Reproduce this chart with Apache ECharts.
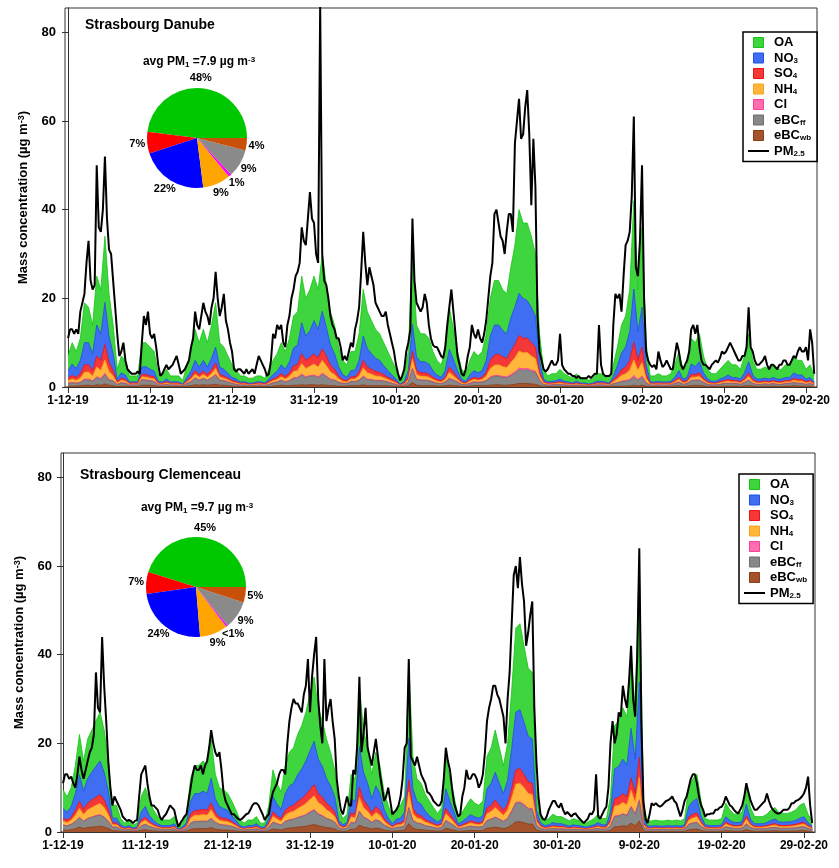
<!doctype html>
<html>
<head>
<meta charset="utf-8">
<title>PM1 composition - Strasbourg</title>
<script src="https://cdn.jsdelivr.net/npm/echarts@6/dist/echarts.min.js"></script>
<style>
html, body { margin: 0; background: #fff; }
#main { width: 839px; height: 868px; }
</style>
</head>
<body>
<div id="main"></div>
<script>
// x axis ticks every 10 days from 1 Dec 2019
var tickDays = [0, 10, 20, 30, 40, 50, 60, 70, 80, 90];
var tickLabels = ['1-12-19', '11-12-19', '21-12-19', '31-12-19', '10-01-20', '20-01-20', '30-01-20', '9-02-20', '19-02-20', '29-02-20'];
var yTicks = [0, 20, 40, 60, 80];

// species stacks: 12 h steps, PM2.5: 6 h steps
var compStepDays = 0.5;
var pmStepDays = 0.25;

// ---- Strasbourg Danube ----
var danubeOA = [3.4,4.8,3.8,5,9,8,6.5,11,10,14.9,
9.5,6.5,2.2,3.8,3.3,1.35,1.3,1.35,5.5,5.4,
5,4.4,1.7,1.35,2.2,1.35,1.3,1.35,0.8,2.85,
4.4,7,5.5,7,5.5,7.5,10,5.5,5,3.9,
2.85,2.2,1.35,1.3,1.1,1.1,1.35,1.3,1.1,2.2,
3.2,4,5,4,5.3,7.2,7.5,10.5,8.5,9.3,
10,9,12.9,9.5,7.5,6.5,4.5,3.2,2.8,4.3,
4.2,6,10.5,8.3,7.5,6.5,6,5.2,4.3,3.3,
2.2,0.8,1.7,4.3,15.9,7.2,6.3,6.3,5.8,4.3,
3.3,2.8,4.3,9.5,6.8,4.3,2.2,1.7,3.3,4.3,
3.8,4.3,6,8.5,10,10,9.2,9,11.4,13.9,
18.9,17,17.5,16,14,6,2.2,1.35,1.7,1.6,
2.2,1.7,1.35,1.1,1.7,1.1,1.1,0.8,1.1,1.7,
1.7,1.35,1.1,2.6,4.2,6.3,7,9.5,19.9,9.5,
18,4.8,1.35,1.35,1.7,1.35,1.35,1.7,2.85,4.3,
2.2,2.85,5.8,5.4,6.3,3.8,2.2,1.7,1.7,2.2,
2.85,3.3,2.85,2.85,2.2,3.8,6.3,3.3,2.2,2.2,
2.5,2.2,2.85,2.2,2.2,2.85,2.85,3.8,3.3,3.3,
2.2,2.85,1.35];
var danubeNO3 = [1.6,2.6,2,3,5,5,3.8,7,6,9.5,
6,3.8,0.6,1.2,1,0.3,0.3,0.3,1.6,1.8,
1.5,1.3,0.4,0.3,0.6,0.3,0.3,0.3,0.2,0.7,
1.3,2.3,1.7,2.4,1.7,2.6,3.6,1.7,1.5,1.1,
0.7,0.6,0.3,0.3,0.25,0.25,0.3,0.3,0.25,0.6,
1,1.3,2,1.6,2.5,4,4.4,7,5.5,6,
7.5,6.5,8.5,6.5,4.6,3.5,2,1.1,0.8,1.4,
1.5,2.6,5.5,4.2,3.5,3,2.7,2,1.5,1,
0.6,0.2,0.4,1.5,6,3,2.5,2.5,2.3,1.5,
1,0.8,1.5,4,2.8,1.5,0.6,0.4,1,1.5,
1.3,1.5,2.7,5.5,6.8,6.6,6,5.6,7.5,8.5,
9.5,9,8.5,8,7,2.6,0.6,0.3,0.4,0.4,
0.6,0.4,0.3,0.25,0.4,0.25,0.25,0.2,0.25,0.4,
0.4,0.3,0.25,0.8,2.2,3.8,4.5,6.5,12,6.5,
9,2.4,0.3,0.3,0.4,0.3,0.3,0.4,0.7,1.5,
0.6,0.7,2.3,1.8,2.5,1.3,0.6,0.4,0.4,0.6,
0.7,1,0.7,0.7,0.6,1.3,2.5,1,0.6,0.6,
0.65,0.6,0.7,0.6,0.6,0.7,0.7,1.3,1,1,
0.6,0.7,0.3];
var danubeSO4 = [0.6,0.8,0.7,1,1.7,1.6,1.2,2.5,2.2,3.5,
2,1.2,0.3,0.5,0.4,0.2,0.2,0.2,0.6,0.6,
0.5,0.5,0.2,0.2,0.3,0.2,0.2,0.2,0.1,0.3,
0.5,0.8,0.6,0.8,0.6,0.9,1.2,0.6,0.5,0.4,
0.3,0.3,0.2,0.2,0.15,0.15,0.2,0.2,0.15,0.3,
0.4,0.5,0.7,0.6,0.8,1.3,1.4,2.2,1.8,2,
2.3,2,2.6,2.2,1.5,1.2,0.7,0.4,0.3,0.5,
0.5,0.9,1.7,1.3,1.1,1,0.9,0.7,0.5,0.4,
0.3,0.1,0.2,0.5,1.8,1,0.8,0.8,0.7,0.5,
0.4,0.3,0.5,1.2,0.9,0.5,0.3,0.2,0.4,0.5,
0.4,0.5,0.9,1.8,2.3,2.4,2.2,2,2.6,3,
3.5,3.3,3.2,3,2.6,0.9,0.3,0.2,0.2,0.2,
0.3,0.2,0.2,0.15,0.2,0.15,0.15,0.1,0.15,0.2,
0.2,0.2,0.15,0.4,0.8,1.3,1.5,2.2,4,2.2,
3.5,0.9,0.2,0.2,0.2,0.2,0.2,0.2,0.3,0.5,
0.3,0.3,0.7,0.6,0.8,0.4,0.3,0.2,0.2,0.3,
0.3,0.4,0.3,0.3,0.3,0.4,0.8,0.4,0.3,0.3,
0.3,0.3,0.3,0.3,0.3,0.3,0.3,0.4,0.4,0.4,
0.3,0.3,0.2];
var danubeNH4 = [0.5,0.8,0.6,0.9,1.5,1.6,1.1,2.2,1.9,3,
1.8,1.1,0.3,0.5,0.4,0.2,0.2,0.2,0.6,0.6,
0.5,0.5,0.2,0.2,0.3,0.2,0.2,0.2,0.1,0.3,
0.5,0.8,0.6,0.8,0.6,0.9,1.3,0.6,0.5,0.4,
0.3,0.3,0.2,0.2,0.15,0.15,0.2,0.2,0.15,0.3,
0.4,0.5,0.7,0.6,0.9,1.4,1.5,2.4,1.9,2.1,
2.5,2.2,2.9,2.3,1.6,1.2,0.7,0.4,0.3,0.5,
0.5,0.9,1.8,1.4,1.2,1,0.9,0.7,0.5,0.4,
0.3,0.1,0.2,0.5,2,1,0.8,0.8,0.7,0.5,
0.4,0.3,0.5,1.3,0.9,0.5,0.3,0.2,0.4,0.5,
0.4,0.5,0.9,1.9,2.3,2.4,2.2,2.1,2.7,3.2,
3.8,3.6,3.6,3.2,2.8,0.9,0.3,0.2,0.2,0.2,
0.3,0.2,0.2,0.15,0.2,0.15,0.15,0.1,0.15,0.2,
0.2,0.2,0.15,0.4,0.8,1.3,1.5,2.1,3.5,2.1,
3,0.9,0.2,0.2,0.2,0.2,0.2,0.2,0.3,0.5,
0.3,0.3,0.7,0.6,0.8,0.4,0.3,0.2,0.2,0.3,
0.3,0.4,0.3,0.3,0.3,0.4,0.8,0.4,0.3,0.3,
0.3,0.3,0.3,0.3,0.3,0.3,0.3,0.4,0.4,0.4,
0.3,0.3,0.2];
var danubeCl = [0.1,0.1,0.1,0.1,0.2,0.2,0.1,0.2,0.2,0.3,
0.2,0.1,0.05,0.1,0.1,0.05,0.05,0.05,0.1,0.1,
0.1,0.1,0.05,0.05,0.05,0.05,0.05,0.05,0.03,0.05,
0.1,0.1,0.1,0.1,0.1,0.1,0.2,0.1,0.1,0.1,
0.05,0.05,0.05,0.05,0.03,0.03,0.05,0.05,0.03,0.05,
0.1,0.1,0.1,0.1,0.1,0.2,0.2,0.2,0.2,0.2,
0.2,0.2,0.3,0.2,0.2,0.1,0.1,0.1,0.05,0.1,
0.1,0.1,0.2,0.2,0.1,0.1,0.1,0.1,0.1,0.1,
0.05,0.03,0.05,0.1,0.3,0.1,0.1,0.1,0.1,0.1,
0.1,0.05,0.1,0.2,0.1,0.1,0.05,0.05,0.1,0.1,
0.1,0.1,0.1,0.2,0.2,0.2,0.2,0.2,0.3,0.3,
0.4,0.3,0.3,0.3,0.3,0.1,0.05,0.05,0.05,0.05,
0.05,0.05,0.05,0.03,0.05,0.03,0.03,0.03,0.03,0.05,
0.05,0.05,0.03,0.05,0.1,0.1,0.2,0.2,0.4,0.2,
0.3,0.1,0.05,0.05,0.05,0.05,0.05,0.05,0.05,0.1,
0.05,0.05,0.1,0.1,0.1,0.1,0.05,0.05,0.05,0.05,
0.05,0.1,0.05,0.05,0.05,0.1,0.1,0.1,0.05,0.05,
0.05,0.05,0.05,0.05,0.05,0.05,0.05,0.1,0.1,0.1,
0.05,0.05,0.03];
var danubeBCff = [0.6,0.7,0.6,0.7,1.2,1.2,1,1.6,1.3,2.1,
1.1,1,0.45,0.7,0.6,0.3,0.35,0.3,1.2,1.1,
1,0.9,0.35,0.3,0.45,0.3,0.35,0.3,0.2,0.6,
0.9,1.5,1.1,1.4,1.1,1.5,2.1,1.1,1,0.8,
0.6,0.45,0.3,0.35,0.25,0.25,0.3,0.35,0.25,0.45,
0.7,0.8,1.1,0.8,1.1,1.5,1.6,2.2,1.7,1.9,
2,1.7,2.3,1.9,1.3,1.2,0.8,0.6,0.55,0.9,
0.9,1.2,1.8,1.3,1.3,1.1,1.1,1,0.8,0.6,
0.45,0.2,0.35,0.8,3,1.3,1.2,1.2,1.1,0.8,
0.6,0.55,0.8,1.4,1.2,0.8,0.45,0.35,0.6,0.8,
0.7,0.8,1.1,1.7,1.9,1.9,1.8,1.7,2,2.5,
3.1,3,3.1,2.8,2.7,1.2,0.45,0.3,0.35,0.4,
0.45,0.35,0.3,0.25,0.35,0.25,0.25,0.2,0.25,0.35,
0.35,0.3,0.25,0.55,0.7,1,1.1,1.3,1.8,1.3,
1.8,0.7,0.3,0.3,0.35,0.3,0.3,0.35,0.6,0.8,
0.45,0.6,1.1,1.1,1.2,0.7,0.45,0.35,0.35,0.45,
0.6,0.6,0.6,0.6,0.45,0.7,1.2,0.6,0.45,0.45,
0.5,0.45,0.6,0.45,0.45,0.6,0.6,0.7,0.6,0.6,
0.45,0.6,0.3];
var danubeBCwb = [0.2,0.2,0.2,0.3,0.4,0.4,0.3,0.5,0.4,0.7,
0.4,0.3,0.1,0.2,0.2,0.1,0.1,0.1,0.4,0.4,
0.4,0.3,0.1,0.1,0.1,0.1,0.1,0.1,0.07,0.2,
0.3,0.5,0.4,0.5,0.4,0.5,0.6,0.4,0.4,0.3,
0.2,0.1,0.1,0.1,0.07,0.07,0.1,0.1,0.07,0.1,
0.2,0.3,0.4,0.3,0.3,0.4,0.4,0.5,0.4,0.5,
0.5,0.4,0.5,0.4,0.3,0.3,0.2,0.2,0.2,0.3,
0.3,0.3,0.5,0.3,0.3,0.3,0.3,0.3,0.3,0.2,
0.1,0.07,0.1,0.3,1,0.4,0.3,0.3,0.3,0.3,
0.2,0.2,0.3,0.4,0.3,0.3,0.1,0.1,0.2,0.3,
0.3,0.3,0.3,0.4,0.5,0.5,0.4,0.4,0.5,0.6,
0.8,0.8,0.8,0.7,0.6,0.3,0.1,0.1,0.1,0.15,
0.1,0.1,0.1,0.07,0.1,0.07,0.07,0.07,0.07,0.1,
0.1,0.1,0.07,0.2,0.2,0.2,0.2,0.2,0.4,0.2,
0.4,0.2,0.1,0.1,0.1,0.1,0.1,0.1,0.2,0.3,
0.1,0.2,0.3,0.4,0.3,0.3,0.1,0.1,0.1,0.1,
0.2,0.2,0.2,0.2,0.1,0.3,0.3,0.2,0.1,0.1,
0.2,0.1,0.2,0.1,0.1,0.2,0.2,0.3,0.2,0.2,
0.1,0.2,0.1];
var danubePM25 = [
11,13,13,12, 13,12,17,19, 21,28,33,24, 22,23,50,36, 35,40,52,38,
31,30,24,18, 12,7,8,10, 6,4,3.5,3, 3,3,3.5,3, 10,16,14,17,
12,11,12,9, 5,2.5,3,4, 5,4,4.5,5, 6,7,5,3, 3.5,4,5,6,
9,11,17,14, 13,16,19,17, 16,14,18,20, 26,20,16,18, 21,15,13,10,
8,4,3.5,4, 4,3.5,3,4, 3,3.5,4,3, 5,7,6,5, 4,2.5,3,6,
12,11,14,13, 14,10,9,14, 16,20,22,25, 26,28,36,33, 32,38,44,38,
37,30,28,86, 30,24,23,20, 16,14,13,11, 11,9,6,7, 6,8,10,9,
13,15,18,26, 35,28,23,27, 25,23,19,18, 17,16,16,17, 14,12,10,8,
5,3,1.5,2.5, 4,8,10,13, 38,24,19,18, 17,18,21,19, 14,11,9.5,9,
9,8,7,6.5, 9,14,18,22, 17,12,7,5, 3,2.5,4,7, 9,14,12,11,
13,11,10,12, 15,20,25,28, 39,40,37,34, 33,30,35,39, 39,35,55,60,
65,56,57,63, 67,57,41,56, 45,16,8,6, 4,3.5,4,5, 6,5,5,6,
12,5,4,3.5, 3,3,2.5,2.5, 2,2.5,2,2, 2,2,2.5,2, 2.5,3,3,14,
5,3,2.5,2.5, 2.5,3,14,21, 20,21,17,25, 32,33,35,43, 61,27,25,33,
50,20,8,6, 5,4.5,5,4, 8,6,4.5,5, 6,5,4,4, 7,10,8,5,
4,5,6,8, 13,14,12,14, 9,6,5,5, 4.5,4,5,5.5, 6,5.5,6.5,8,
7.5,8,9,10, 9,8,7,6, 6,7,7,9, 18,9,8,6, 5,5,5.5,6,
7,5,4,5, 5,4.5,4,5, 5,6,6,5, 5,6,7,6.5, 8,9,8,8,
9,6,13,10, 3];
var danubeAvg = 7.9;
var danubePie = [48, 7, 22, 9, 1, 9, 4];
var danubePieLabels = ['48%', '7%', '22%', '9%', '1%', '9%', '4%'];

// ---- Strasbourg Clemenceau ----
var clemOA = [4.2,3.5,4.25,6.3,9.1,6.8,8.9,9.5,10.2,11,
9.5,6.8,2.9,2.9,1.4,0.9,1.25,0.7,0.9,3.5,
4.25,3.35,2.35,1.6,1.25,1.25,1.25,1.6,0.53,0.9,
1.9,5.1,6.3,6.3,6.8,6.3,8.9,5.5,4.25,4.2,
3.8,3.35,2.35,1.25,0.9,1.25,1.25,1.6,0.9,0.9,
2.9,6,4.7,3.9,6.3,7.6,8,9.1,9.8,11,
12.8,14.5,11.6,10.2,8.9,7.6,6,2.35,1.4,1.9,
5.5,5.1,13.7,9.5,8,5.5,7.6,6.3,3.9,2.9,
1.6,2.6,2.9,3.5,16.8,7.3,5.1,4.7,3.8,3.35,
2.6,1.95,2.6,7.3,5.1,3.5,1.6,2.1,2.9,3.6,
3.1,2.9,3.35,7.3,8,9.5,8,6.3,8.4,13.1,
19,19.4,17.3,15.3,15,3.9,1.9,1.25,1.4,1.9,
1.6,1.6,1.4,1.17,1.4,1.25,1.17,0.9,1.17,1.4,
1.9,1.4,1.4,3.5,9.8,10.2,11.6,10.8,16.6,11.6,
28,2.9,1.17,1.17,1.25,1.17,1.17,1.25,1.17,1.25,
1.17,1.4,4.25,5.1,5.5,3.35,1.4,1.25,1.25,1.25,
1.4,3.1,2.35,1.9,1.9,2.1,4.7,2.6,1.6,1.6,
1.6,1.9,2.35,2.6,1.95,1.95,1.95,2.1,2.35,2.9,
3.1,1.9,1.17];
var clemNO3 = [2.2,1.8,2.4,3.8,6,4.1,5.6,6.3,7,7.6,
6.3,4.1,1.1,1.1,0.5,0.35,0.45,0.28,0.35,1.8,
2.4,1.3,0.9,0.6,0.45,0.45,0.45,0.6,0.2,0.35,
0.7,2.9,3.8,3.8,4.1,3.8,5.6,3.2,2.4,2.2,
2,1.3,0.9,0.45,0.35,0.45,0.45,0.6,0.35,0.35,
1.1,3.5,2.6,2.1,3.8,4.7,5,6,6.7,7.6,
8.7,9.8,7.8,7,5.6,4.7,3.5,0.9,0.5,0.7,
3.2,2.9,9.2,6.3,5,3.2,4.7,3.8,2.1,1.1,
0.6,1,1.1,1.8,9.5,4.4,2.9,2.6,1.9,1.3,
1,0.75,1,4.4,2.9,1.8,0.6,0.8,1.1,1.4,
1.2,1.1,1.3,4.4,5,6.3,5,3.8,5.3,9,
13,13.3,11.8,10.4,10,2.1,0.7,0.45,0.5,0.7,
0.6,0.6,0.5,0.42,0.5,0.45,0.42,0.35,0.42,0.5,
0.7,0.5,0.5,1.8,6.7,7,7.8,7.3,11.2,7.8,
17,1.1,0.42,0.42,0.45,0.42,0.42,0.45,0.42,0.45,
0.42,0.5,2.4,2.9,3.2,1.3,0.5,0.45,0.45,0.45,
0.5,1.2,0.9,0.7,0.7,0.8,2.6,1,0.6,0.6,
0.6,0.7,0.9,1,0.75,0.75,0.75,0.8,0.9,1.1,
1.2,0.7,0.42];
var clemSO4 = [0.7,0.55,0.7,1.1,1.6,1.2,1.5,1.7,1.8,2,
1.7,1.2,0.4,0.4,0.2,0.13,0.18,0.1,0.13,0.55,
0.7,0.45,0.33,0.23,0.18,0.18,0.18,0.23,0.08,0.13,
0.26,0.85,1.1,1.1,1.2,1.1,1.5,0.9,0.7,0.7,
0.6,0.45,0.33,0.18,0.13,0.18,0.18,0.23,0.13,0.13,
0.4,1,0.77,0.63,1.1,1.3,1.35,1.6,1.7,2,
2.2,2.5,2,1.8,1.5,1.3,1,0.33,0.2,0.26,
0.9,0.85,2.3,1.7,1.35,0.9,1.3,1.1,0.63,0.4,
0.23,0.38,0.4,0.55,2.7,1.2,0.85,0.77,0.6,0.45,
0.38,0.29,0.38,1.2,0.85,0.55,0.23,0.3,0.4,0.5,
0.45,0.4,0.45,1.2,1.35,1.7,1.35,1.1,1.4,2.2,
3.2,3.3,2.9,2.6,2.5,0.63,0.26,0.18,0.2,0.26,
0.23,0.23,0.2,0.16,0.2,0.18,0.16,0.13,0.16,0.2,
0.26,0.2,0.2,0.55,1.7,1.8,2,1.8,2.8,2,
4.5,0.4,0.16,0.16,0.18,0.16,0.16,0.18,0.16,0.18,
0.16,0.2,0.7,0.85,0.9,0.45,0.2,0.18,0.18,0.18,
0.2,0.45,0.33,0.26,0.26,0.3,0.77,0.38,0.23,0.23,
0.23,0.26,0.33,0.38,0.29,0.29,0.29,0.3,0.33,0.4,
0.45,0.26,0.16];
var clemNH4 = [0.8,0.7,0.9,1.35,2,1.45,1.9,2.1,2.3,2.5,
2.1,1.45,0.5,0.5,0.25,0.16,0.22,0.13,0.16,0.7,
0.9,0.6,0.42,0.3,0.22,0.22,0.22,0.3,0.1,0.16,
0.34,1.1,1.35,1.35,1.45,1.35,1.9,1.2,0.9,0.8,
0.78,0.6,0.42,0.22,0.16,0.22,0.22,0.3,0.16,0.16,
0.5,1.25,1,0.8,1.35,1.6,1.7,2,2.2,2.5,
2.8,3.1,2.5,2.3,1.9,1.6,1.25,0.42,0.25,0.34,
1.2,1.1,3,2.1,1.7,1.2,1.6,1.35,0.8,0.5,
0.3,0.48,0.5,0.7,3.4,1.5,1.1,1,0.75,0.6,
0.48,0.36,0.48,1.5,1.1,0.7,0.3,0.4,0.5,0.65,
0.57,0.5,0.6,1.5,1.7,2.1,1.7,1.35,1.8,2.9,
4.1,4.2,3.8,3.3,3.2,0.8,0.34,0.22,0.25,0.34,
0.3,0.3,0.25,0.2,0.25,0.22,0.2,0.16,0.2,0.25,
0.34,0.25,0.25,0.7,2.2,2.3,2.5,2.3,3.6,2.5,
5,0.5,0.2,0.2,0.22,0.2,0.2,0.22,0.2,0.22,
0.2,0.25,0.9,1.1,1.2,0.6,0.25,0.22,0.22,0.22,
0.25,0.57,0.42,0.34,0.34,0.4,1,0.48,0.3,0.3,
0.3,0.34,0.42,0.48,0.36,0.36,0.36,0.4,0.42,0.5,
0.57,0.34,0.2];
var clemCl = [0.05,0.04,0.05,0.08,0.1,0.08,0.1,0.1,0.12,0.13,
0.1,0.08,0.03,0.03,0.02,0.01,0.02,0.01,0.01,0.04,
0.05,0.04,0.03,0.02,0.02,0.02,0.02,0.02,0.01,0.01,
0.02,0.06,0.08,0.08,0.08,0.08,0.1,0.07,0.05,0.05,
0.05,0.04,0.03,0.02,0.01,0.02,0.02,0.02,0.01,0.01,
0.03,0.07,0.05,0.05,0.08,0.09,0.1,0.1,0.12,0.13,
0.15,0.17,0.14,0.12,0.1,0.09,0.07,0.03,0.02,0.02,
0.07,0.06,0.16,0.1,0.1,0.07,0.09,0.08,0.05,0.03,
0.02,0.03,0.03,0.04,0.2,0.08,0.06,0.05,0.04,0.04,
0.03,0.02,0.03,0.08,0.06,0.04,0.02,0.02,0.03,0.04,
0.03,0.03,0.04,0.08,0.1,0.1,0.1,0.08,0.1,0.16,
0.2,0.2,0.2,0.18,0.18,0.05,0.02,0.02,0.02,0.02,
0.02,0.02,0.02,0.01,0.02,0.02,0.01,0.01,0.01,0.02,
0.02,0.02,0.02,0.04,0.12,0.12,0.14,0.13,0.2,0.14,
0.3,0.03,0.01,0.01,0.02,0.01,0.01,0.02,0.01,0.02,
0.01,0.02,0.05,0.06,0.07,0.04,0.02,0.02,0.02,0.02,
0.02,0.03,0.03,0.02,0.02,0.02,0.05,0.03,0.02,0.02,
0.02,0.02,0.03,0.03,0.02,0.02,0.02,0.02,0.03,0.03,
0.03,0.02,0.01];
var clemBCff = [1.1,1,1.2,1.6,2.1,1.6,2,2.2,2.4,2.5,
2.2,1.6,0.8,0.8,0.5,0.35,0.45,0.3,0.35,1,
1.2,0.9,0.7,0.55,0.45,0.45,0.45,0.55,0.22,0.35,
0.6,1.4,1.6,1.6,1.6,1.6,2,1.5,1.2,1.1,
1.05,0.9,0.7,0.45,0.35,0.45,0.45,0.55,0.35,0.35,
0.8,1.5,1.3,1.1,1.6,1.8,1.9,2.1,2.3,2.5,
2.9,3.2,2.6,2.4,2,1.8,1.5,0.7,0.5,0.6,
1.5,1.4,3,2.2,1.9,1.5,1.8,1.6,1.1,0.8,
0.55,0.75,0.8,1,3.5,1.7,1.4,1.3,1,0.9,
0.75,0.62,0.75,1.7,1.4,1,0.55,0.65,0.8,0.95,
0.85,0.8,0.9,1.7,1.9,2.2,1.9,1.6,2,3,
4.2,4.3,3.9,3.4,3.3,1.1,0.6,0.45,0.5,0.6,
0.55,0.55,0.5,0.42,0.5,0.45,0.42,0.35,0.42,0.5,
0.6,0.5,0.5,1,2.3,2.4,2.6,2.4,3.6,2.6,
4.5,0.8,0.42,0.42,0.45,0.42,0.42,0.45,0.42,0.45,
0.42,0.5,1.2,1.4,1.5,0.9,0.5,0.45,0.45,0.45,
0.5,0.85,0.7,0.6,0.6,0.65,1.3,0.75,0.55,0.55,
0.55,0.6,0.7,0.75,0.62,0.62,0.62,0.65,0.7,0.8,
0.85,0.6,0.42];
var clemBCwb = [0.45,0.4,0.5,0.75,1.1,0.8,1,1.1,1.2,1.3,
1.1,0.8,0.3,0.3,0.15,0.1,0.13,0.08,0.1,0.4,
0.5,0.35,0.25,0.17,0.13,0.13,0.13,0.17,0.06,0.1,
0.2,0.6,0.75,0.75,0.8,0.75,1,0.65,0.5,0.45,
0.43,0.35,0.25,0.13,0.1,0.13,0.13,0.17,0.1,0.1,
0.3,0.7,0.55,0.45,0.75,0.9,0.95,1.1,1.2,1.3,
1.5,1.7,1.4,1.2,1,0.9,0.7,0.25,0.15,0.2,
0.65,0.6,1.6,1.1,0.95,0.65,0.9,0.75,0.45,0.3,
0.17,0.27,0.3,0.4,1.9,0.85,0.6,0.55,0.42,0.35,
0.27,0.21,0.27,0.85,0.6,0.4,0.17,0.22,0.3,0.37,
0.32,0.3,0.35,0.85,0.95,1.1,0.95,0.75,1,1.6,
2.3,2.3,2.1,1.8,1.8,0.45,0.2,0.13,0.15,0.2,
0.17,0.17,0.15,0.12,0.15,0.13,0.12,0.1,0.12,0.15,
0.2,0.15,0.15,0.4,1.2,1.2,1.4,1.3,2,1.4,
2.5,0.3,0.12,0.12,0.13,0.12,0.12,0.13,0.12,0.13,
0.12,0.15,0.5,0.6,0.65,0.35,0.15,0.13,0.13,0.13,
0.15,0.32,0.25,0.2,0.2,0.22,0.55,0.27,0.17,0.17,
0.17,0.2,0.25,0.27,0.21,0.21,0.21,0.22,0.25,0.3,
0.32,0.2,0.12];
var clemPM25 = [
11,13,13,12, 12.5,11,10,13, 17,14,12,14, 16,18,19,22, 36,28,27,44,
33,25,16,10, 6,8,7,6, 5,3.5,3,2.5, 2.7,2.5,2,2.5, 2.7,8,13,14,
15,11,8,6, 6,5.5,5,3.5, 2.7,3.5,4,5, 6,5.5,5,3, 1.2,2,2.7,3.5,
4,7,10,13, 15,14,14,15, 13,15,16,19, 23,20,18,17, 18,14,9,7,
6,5,4,4, 3.5,3,2.7,3, 3.5,4,4.2,5, 6,6.5,6.5,6, 5,4,2.7,3.5,
4,7,9,10, 11,13,14,14, 13,20,25,28, 30,29,29,28, 27,31,33,39,
27,35,40,44, 30,24,20,39, 25,28,30,25, 21,12,8,5, 4,6,8,6,
6,14,13,20, 35,18,22,28, 19,17,15,18, 21,17,13,10, 7,8,10,7,
4,4.5,5,6, 8,12,19,20, 39,17,16,15, 17,15,13,12, 11,9,8.7,8,
7,6.5,6,6, 7,12,19,16, 14,10,6.5,5, 3.5,4,8,10, 14,12,12,13,
13,12,10,11, 13,18,25,28, 30,33,33,31, 30,28,26,20, 30,36,47,58,
60,55,62,56, 52,42,45,49, 52,28,16,8, 4,3,2.7,3.5, 5,6,7,7,
6,5.5,6.5,5, 4,4.5,4,3.5, 4,4.2,3.5,3, 2.5,2,2.5,3, 4.2,4,5,13,
3.5,3,4,5, 5.7,10,20,25, 20,22,27,26, 33,30,28,34, 42,30,26,40,
64,25,7,3, 2,4,6.5,6, 6.5,6,5.7,6, 6.5,7,7.2,7.5, 8,7,6.5,5,
3.5,5,7,8, 10,12,13,13, 11,8,6,5, 3.5,4,4,4.2, 4.2,5,5,5.5,
5.7,6.5,8,7, 6,5.7,5,4.5, 4.2,5,6,8, 11,9,7.2,6, 5,5,5.5,6,
6.5,7,8.7,7, 5.7,5,4.5,4.2, 4.2,4.5,5,5, 5,5.5,6.5,6.5, 7,7.2,7.5,8,
8.7,10,12.5,6, 2];
var clemAvg = 9.7;
var clemPie = [45, 7, 24, 9, 0.6, 9, 5];
var clemPieLabels = ['45%', '7%', '24%', '9%', '<1%', '9%', '5%'];

// pie slice order (counter-clockwise from 3 o'clock)
var pieOrder = ['OA', 'SO4', 'NO3', 'NH4', 'Cl', 'eBCff', 'eBCwb'];
var legendOrder = ['OA', 'NO3', 'SO4', 'NH4', 'Cl', 'eBCff', 'eBCwb', 'PM2.5'];
// bottom -> top of the stacked areas
var stackOrder = ['eBCwb', 'eBCff', 'Cl', 'NH4', 'SO4', 'NO3', 'OA'];

var FONT = '"Liberation Sans", Arial, sans-serif';
var colors = {
    OA:    { area: '#3ed53e', line: '#14c414', pie: '#00c800' },
    NO3:   { area: '#3f6ef2', line: '#1f4fe6', pie: '#0000ff' },
    SO4:   { area: '#f43838', line: '#ee1010', pie: '#ff0000' },
    NH4:   { area: '#ffb63a', line: '#f7a21c', pie: '#ffa500' },
    Cl:    { area: '#ff6fb0', line: '#ff3c96', pie: '#ff00ff' },
    eBCff: { area: '#888888', line: '#6e6e6e', pie: '#8a8a8a' },
    eBCwb: { area: '#a5532c', line: '#8a3e18', pie: '#c8500a' }
};
var labelRich = {
    OA: '{n|OA}', NO3: '{n|NO}{s|3}', SO4: '{n|SO}{s|4}', NH4: '{n|NH}{s|4}',
    Cl: '{n|Cl}', eBCff: '{n|eBC}{s|ff}', eBCwb: '{n|eBC}{s|wb}', 'PM2.5': '{n|PM}{s|2.5}'
};

function pairs(vals, step) {
    return vals.map(function (v, i) { return [i * step, v]; });
}

var panels = [
    {
        title: 'Strasbourg Danube', avg: danubeAvg, pie: danubePie, pieLabels: danubePieLabels, pm: danubePM25,
        comp: { OA: danubeOA, NO3: danubeNO3, SO4: danubeSO4, NH4: danubeNH4, Cl: danubeCl, eBCff: danubeBCff, eBCwb: danubeBCwb },
        grid: { left: 65, top: 8, width: 752, height: 379 }, xmin: -0.37, xmax: 91.34,
        titlePos: [85, 25], pieCenter: [197, 138], pieTitle: [199, 62], legend: { left: 743, top: 32 }
    },
    {
        title: 'Strasbourg Clemenceau', avg: clemAvg, pie: clemPie, pieLabels: clemPieLabels, pm: clemPM25,
        comp: { OA: clemOA, NO3: clemNO3, SO4: clemSO4, NH4: clemNH4, Cl: clemCl, eBCff: clemBCff, eBCwb: clemBCwb },
        grid: { left: 61, top: 453, width: 754, height: 379 }, xmin: -0.243, xmax: 91.34,
        titlePos: [80, 475], pieCenter: [196, 587], pieTitle: [197, 508], legend: { left: 739, top: 474 }
    }
];

var option = {
    animation: false,
    backgroundColor: '#fff',
    textStyle: { fontFamily: FONT, fontWeight: 'bold', color: '#000' },
    grid: [], xAxis: [], yAxis: [], series: [], legend: [], graphic: []
};

panels.forEach(function (p, gi) {
    option.grid.push(Object.assign({ show: true, borderColor: '#333', borderWidth: 1, backgroundColor: 'transparent' }, p.grid));
    option.xAxis.push({
        type: 'value', gridIndex: gi, min: p.xmin, max: p.xmax,
        splitLine: { show: false },
        axisLine: { show: true, onZero: false, lineStyle: { color: '#333', width: 1 } },
        axisTick: { show: true, inside: false, length: 6, customValues: tickDays, lineStyle: { color: '#333' } },
        axisLabel: {
            customValues: tickDays, margin: 8, fontSize: 12, fontWeight: 'bold', color: '#000', fontFamily: FONT,
            formatter: function (v) { return tickLabels[Math.round(v / 10)]; }
        }
    });
    option.yAxis.push({
        type: 'value', gridIndex: gi, min: 0, max: 85.5,
        splitLine: { show: false },
        axisLine: { show: true, lineStyle: { color: '#333', width: 1 } },
        axisTick: { show: true, inside: false, length: 6, customValues: yTicks, lineStyle: { color: '#333' } },
        axisLabel: { customValues: yTicks, margin: 9, fontSize: 13, fontWeight: 'bold', color: '#000', fontFamily: FONT },
        name: '{a|Mass concentration (µg m}{b|-3}{a|)}',
        nameLocation: 'middle', nameGap: 35,
        nameTextStyle: {
            rich: {
                a: { fontSize: 13, fontWeight: 'bold', fontFamily: FONT, color: '#000' },
                b: { fontSize: 9, fontWeight: 'bold', fontFamily: FONT, color: '#000', verticalAlign: 'top' }
            }
        }
    });

    // stack by hand: running sum from the bottom layer, drawn top layer first
    var running = p.comp.OA.map(function () { return 0; });
    var layers = stackOrder.map(function (key) {
        running = running.map(function (s, i) { return s + p.comp[key][i]; });
        return { key: key, tops: running.slice() };
    });
    layers.reverse().forEach(function (layer) {
        var key = layer.key;
        option.series.push({
            name: key, type: 'line', xAxisIndex: gi, yAxisIndex: gi,
            data: pairs(layer.tops, compStepDays),
            symbol: 'none', showSymbol: false, z: 2,
            lineStyle: { color: colors[key].line, width: 0.8 },
            itemStyle: { color: colors[key].area },
            areaStyle: { color: colors[key].area, opacity: 1 }
        });
    });
    option.series.push({
        name: 'PM2.5', type: 'line', xAxisIndex: gi, yAxisIndex: gi,
        data: pairs(p.pm, pmStepDays),
        symbol: 'none', showSymbol: false, z: 3,
        lineStyle: { color: '#000', width: 2 },
        itemStyle: { color: '#000' }
    });
    option.series.push({
        type: 'pie', center: p.pieCenter, radius: 50, startAngle: 0, clockwise: false,
        z: 4, silent: true, label: { show: false }, labelLine: { show: false },
        data: p.pie.map(function (v, i) {
            return { name: pieOrder[i], value: v, itemStyle: { color: colors[pieOrder[i]].pie } };
        })
    });
    // invisible wider pie: its inside labels sit on a ring just outside the real pie
    option.series.push({
        type: 'pie', center: p.pieCenter, radius: 114, startAngle: 0, clockwise: false,
        z: 1, silent: true, avoidLabelOverlap: false, minShowLabelAngle: 0,
        itemStyle: { color: 'rgba(0,0,0,0)', borderWidth: 0 },
        label: {
            show: true, position: 'inside', fontSize: 11, fontWeight: 'bold', color: '#000', fontFamily: FONT,
            formatter: function (prm) { return p.pieLabels[prm.dataIndex]; }
        },
        labelLine: { show: false },
        labelLayout: { hideOverlap: false },
        data: p.pie.map(function (v, i) {
            return { name: pieOrder[i], value: v, itemStyle: { color: 'rgba(0,0,0,0)' } };
        })
    });

    option.legend.push({
        orient: 'vertical', left: p.legend.left, top: p.legend.top,
        borderColor: '#000', borderWidth: 1.5, padding: [4, 6, 4, 5],
        itemWidth: 21, itemHeight: 10, itemGap: 2.5, selectedMode: false,
        textStyle: {
            rich: {
                n: { fontSize: 13, fontWeight: 'bold', fontFamily: FONT, color: '#000', lineHeight: 13 },
                s: { fontSize: 8, fontWeight: 'bold', fontFamily: FONT, color: '#000', verticalAlign: 'bottom', lineHeight: 8, padding: [5, 0, 0, 0] }
            }
        },
        formatter: function (name) { return labelRich[name]; },
        data: legendOrder.map(function (key) {
            if (key === 'PM2.5') {
                return { name: key, icon: 'path://M0,0H21V2H0Z', itemStyle: { color: '#000', borderWidth: 0 } };
            }
            return {
                name: key, icon: 'path://M0,0H10V10H0Z',
                itemStyle: { color: colors[key].area, borderColor: colors[key].line, borderWidth: 1 }
            };
        })
    });

    option.graphic.push({
        type: 'text', x: p.titlePos[0], y: p.titlePos[1], z: 50,
        style: { text: p.title, fontSize: 14, fontWeight: 'bold', fontFamily: FONT, fill: '#000', verticalAlign: 'middle' }
    });
    option.graphic.push({
        type: 'text', x: p.pieTitle[0], y: p.pieTitle[1], z: 50,
        style: {
            text: '{a|avg PM}{b|1}{a| =' + p.avg + ' µg m}{c|-3}',
            align: 'center', verticalAlign: 'middle',
            rich: {
                a: { fontSize: 12, fontWeight: 'bold', fontFamily: FONT, fill: '#000' },
                b: { fontSize: 8, fontWeight: 'bold', fontFamily: FONT, fill: '#000', verticalAlign: 'bottom', padding: [5, 0, 0, 0] },
                c: { fontSize: 8, fontWeight: 'bold', fontFamily: FONT, fill: '#000', verticalAlign: 'top' }
            }
        }
    });
});

var chart = echarts.init(document.getElementById('main'));
chart.setOption(option);
window.addEventListener('resize', function () { chart.resize(); });
</script>
</body>
</html>
